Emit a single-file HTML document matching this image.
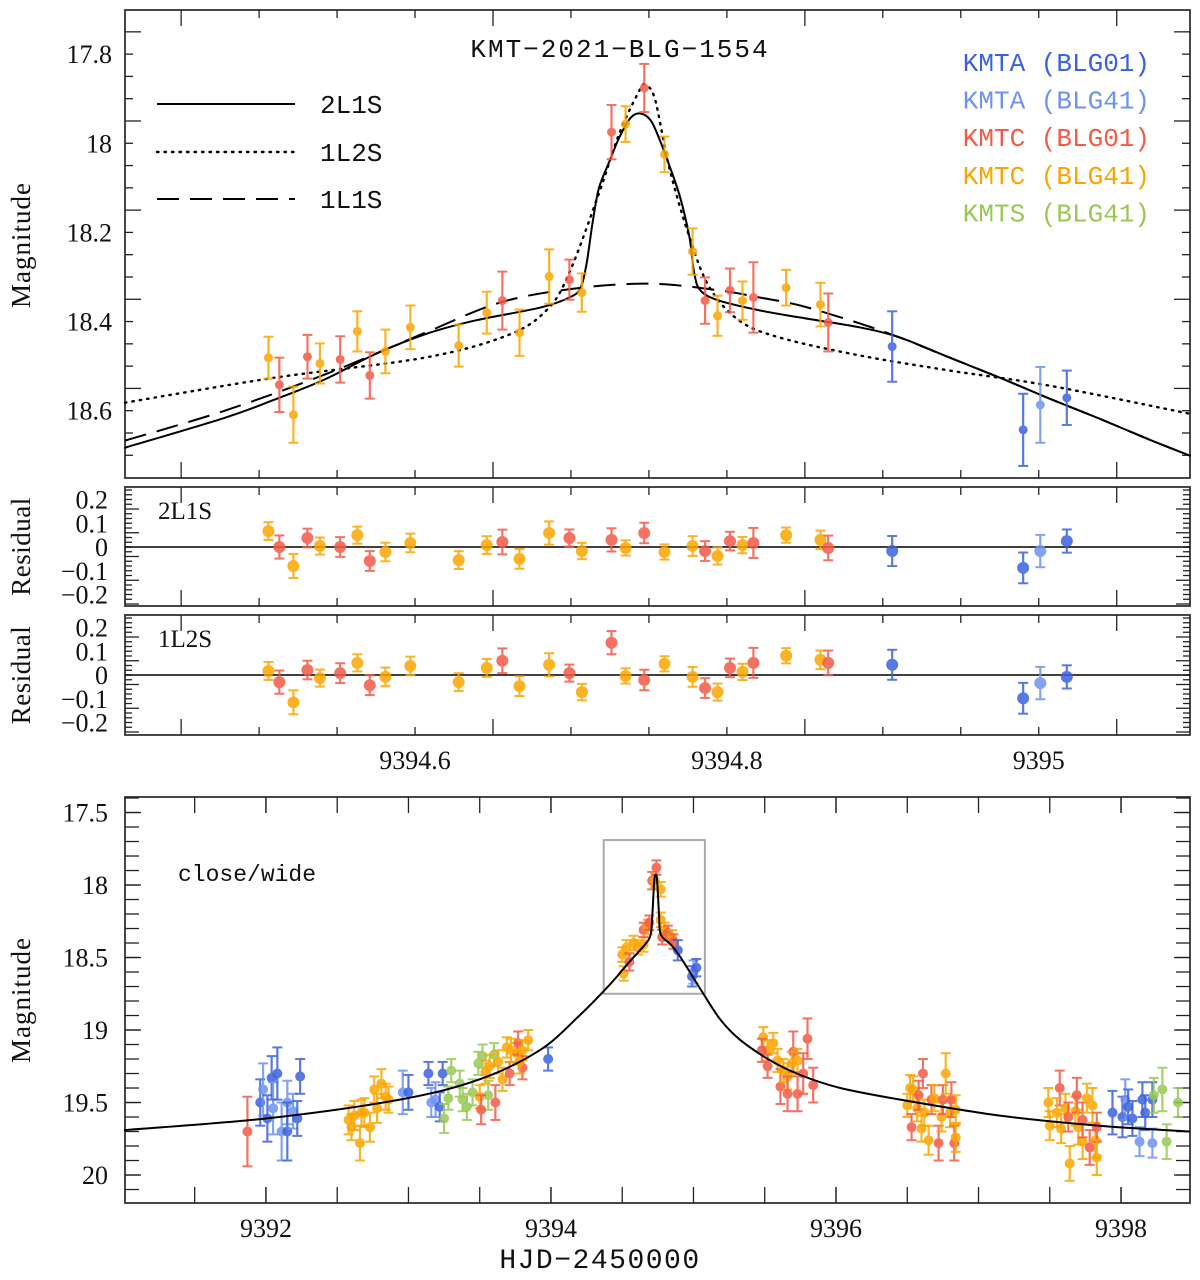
<!DOCTYPE html>
<html><head><meta charset="utf-8"><style>
html,body{margin:0;padding:0;background:#fff;}
svg{display:block;}
text{font-family:"Liberation Serif",serif;fill:#111;}
.mono{font-family:"Liberation Mono",monospace;}
</style></head><body>
<svg id="chart" width="1200" height="1280" viewBox="0 0 1200 1280" xmlns="http://www.w3.org/2000/svg"></svg>
<script>
// ---------- data: zoom panel (top) ----------
const topT = [9394.506,9394.513,9394.522,9394.531,9394.539,9394.552,9394.563,9394.571,9394.581,9394.597,9394.628,9394.646,9394.656,9394.667,9394.686,9394.699,9394.707,9394.726,9394.735,9394.747,9394.760,9394.778,9394.786,9394.794,9394.802,9394.810,9394.817,9394.838,9394.860,9394.865,9394.906,9394.990,9395.001,9395.018];
const topMag = [18.481,18.542,18.609,18.479,18.494,18.485,18.422,18.521,18.467,18.413,18.454,18.380,18.353,18.425,18.299,18.306,18.335,17.975,17.957,17.876,18.025,18.243,18.353,18.387,18.330,18.353,18.346,18.324,18.362,18.402,18.456,18.643,18.587,18.571];
const topErr = [0.047,0.061,0.063,0.049,0.045,0.052,0.045,0.052,0.049,0.049,0.047,0.047,0.065,0.052,0.061,0.045,0.043,0.061,0.040,0.054,0.040,0.052,0.052,0.045,0.049,0.043,0.079,0.040,0.049,0.065,0.079,0.081,0.085,0.061];
const topSet = [3,2,3,2,3,2,3,2,3,3,3,3,2,3,3,2,3,2,3,2,3,3,2,3,2,3,2,3,3,2,0,0,1,0];
const res2L1S = [0.067,0,-0.080,0.038,0.004,0,0.050,-0.059,-0.021,0.017,-0.055,0.008,0.021,-0.050,0.059,0.038,-0.017,0.030,-0.004,0.059,-0.021,0.004,-0.017,-0.038,0.025,0.008,0.017,0.050,0.030,-0.004,-0.017,-0.088,-0.017,0.025];
const res1L2S = [0.017,-0.030,-0.115,0.021,-0.013,0.008,0.051,-0.043,-0.008,0.038,-0.030,0.030,0.060,-0.047,0.043,0.008,-0.072,0.136,-0.004,-0.021,0.047,-0.008,-0.055,-0.072,0.030,0.013,0.051,0.081,0.064,0.051,0.043,-0.098,-0.034,-0.008];
// model curves (zoom panel)
const m2L1S_t = [9394.414,9394.478,9394.510,9394.542,9394.574,9394.606,9394.638,9394.680,9394.699,9394.706,9394.710,9394.714,9394.718,9394.725,9394.731,9394.738,9394.744,9394.751,9394.757,9394.763,9394.770,9394.776,9394.779,9394.783,9394.795,9394.821,9394.847,9394.885,9394.911,9394.943,9394.975,9395.007,9395.039,9395.071,9395.097];
const m2L1S_m = [18.683,18.616,18.575,18.530,18.474,18.429,18.398,18.369,18.346,18.325,18.270,18.175,18.100,18.038,17.987,17.944,17.933,17.948,17.993,18.049,18.121,18.211,18.290,18.330,18.353,18.375,18.391,18.413,18.436,18.481,18.526,18.573,18.618,18.665,18.701];
const m1L2S_t = [9394.414,9394.510,9394.606,9394.660,9394.685,9394.699,9394.718,9394.731,9394.744,9394.748,9394.754,9394.763,9394.776,9394.789,9394.808,9394.834,9394.885,9394.943,9395.007,9395.097];
const m1L2S_m = [18.582,18.526,18.481,18.430,18.372,18.290,18.112,17.978,17.881,17.870,17.903,18.054,18.211,18.324,18.398,18.436,18.476,18.510,18.544,18.607];
const m1L1S_t = [9394.414,9394.478,9394.542,9394.606,9394.654,9394.702,9394.751,9394.795,9394.821,9394.847,9394.885,9394.911,9394.943,9394.975,9395.007,9395.039,9395.071,9395.097];
const m1L1S_m = [18.667,18.600,18.519,18.426,18.358,18.326,18.315,18.330,18.346,18.364,18.404,18.436,18.481,18.526,18.573,18.618,18.665,18.701];
// ---------- data: full light curve (bottom) ----------
const botT = [9391.87,
 9391.96,9391.98,9392.01,9392.04,9392.05,9392.08,9392.11,9392.15,9392.15,9392.19,9392.22,9392.24,
 9392.58,9392.60,9392.62,9392.66,9392.67,9392.69,9392.73,9392.76,9392.78,9392.81,9392.84,9392.86,
 9392.96,9393.00,9393.14,9393.16,9393.19,9393.22,9393.24,
 9393.25,9393.28,9393.30,9393.36,9393.38,9393.41,9393.45,9393.49,9393.52,9393.56,9393.60,
 9393.50,9393.51,9393.54,9393.57,9393.61,9393.63,9393.66,9393.71,9393.69,9393.72,9393.76,9393.77,9393.80,9393.80,9393.84,9393.78,
 9393.98,
 9394.50,9394.51,9394.53,9394.55,9394.58,9394.61,9394.65,9394.65,9394.68,9394.69,9394.71,9394.73,9394.74,9394.77,9394.77,9394.78,9394.80,9394.82,9394.85,9394.86,9394.89,9394.99,9395.00,9395.02,
 9395.49,9395.52,9395.48,9395.52,9395.56,9395.59,9395.61,9395.63,9395.66,9395.66,9395.70,9395.73,9395.73,9395.77,9395.80,9395.84,9395.69,
 9396.50,9396.52,9396.53,9396.54,9396.57,9396.58,9396.61,9396.60,9396.62,9396.65,9396.67,9396.69,9396.72,9396.74,9396.75,9396.77,9396.80,9396.81,9396.83,9396.84,9396.84,
 9397.49,9397.50,9397.57,9397.55,9397.58,9397.61,9397.63,9397.64,9397.68,9397.69,9397.70,9397.73,9397.73,9397.76,9397.78,9397.80,9397.82,9397.83,9397.83,
 9397.94,9398.01,9398.03,9398.05,9398.08,9398.13,9398.15,9398.17,9398.22,9398.22,
 9398.23,9398.29,9398.32,9398.40];
const botMag = [19.70,
 19.50,19.41,19.61,19.33,19.54,19.30,19.70,19.50,19.70,19.56,19.61,19.32,
 19.62,19.67,19.59,19.78,19.57,19.57,19.67,19.41,19.54,19.37,19.46,19.48,
 19.43,19.43,19.30,19.50,19.48,19.53,19.30,
 19.61,19.47,19.28,19.37,19.48,19.53,19.43,19.23,19.18,19.45,19.17,
 19.46,19.55,19.29,19.25,19.50,19.22,19.34,19.30,19.12,19.14,19.16,19.09,19.14,19.26,19.07,19.22,
 19.20,
 18.48,18.61,18.43,18.53,18.40,18.43,18.41,18.31,18.29,18.26,17.97,17.97,17.88,18.03,18.24,18.36,18.31,18.33,18.36,18.39,18.45,18.63,18.60,18.57,
 19.05,19.14,19.14,19.25,19.09,19.21,19.39,19.28,19.32,19.44,19.15,19.44,19.21,19.30,19.06,19.38,19.23,
 19.52,19.40,19.67,19.41,19.54,19.45,19.30,19.68,19.57,19.76,19.48,19.47,19.78,19.60,19.48,19.30,19.57,19.48,19.78,19.55,19.74,
 19.50,19.66,19.40,19.57,19.68,19.54,19.60,19.92,19.56,19.45,19.67,19.77,19.62,19.47,19.81,19.52,19.76,19.67,19.88,
 19.57,19.60,19.48,19.53,19.61,19.77,19.48,19.57,19.48,19.78,
 19.45,19.41,19.77,19.50];
const botErr = [0.24,
 0.16,0.18,0.16,0.15,0.18,0.18,0.20,0.15,0.20,0.12,0.12,0.12,
 0.10,0.09,0.10,0.12,0.09,0.10,0.10,0.09,0.10,0.10,0.09,0.09,
 0.15,0.12,0.08,0.10,0.12,0.10,0.08,
 0.10,0.08,0.08,0.09,0.08,0.09,0.09,0.08,0.08,0.10,0.08,
 0.08,0.10,0.08,0.08,0.12,0.08,0.08,0.08,0.07,0.08,0.07,0.08,0.07,0.08,0.07,0.08,
 0.08,
 0.05,0.05,0.05,0.06,0.05,0.05,0.05,0.05,0.05,0.05,0.06,0.05,0.05,0.05,0.05,0.05,0.05,0.05,0.05,0.05,0.07,0.07,0.08,0.06,
 0.07,0.07,0.08,0.08,0.07,0.08,0.12,0.08,0.09,0.12,0.14,0.12,0.08,0.14,0.14,0.12,0.08,
 0.08,0.09,0.09,0.09,0.09,0.10,0.10,0.09,0.09,0.10,0.10,0.09,0.12,0.10,0.10,0.14,0.10,0.12,0.12,0.10,0.10,
 0.10,0.10,0.12,0.10,0.10,0.10,0.10,0.12,0.10,0.12,0.12,0.12,0.12,0.10,0.12,0.12,0.12,0.10,0.12,
 0.15,0.14,0.14,0.12,0.12,0.10,0.12,0.12,0.12,0.10,
 0.12,0.15,0.12,0.10];
const botSet = [2,
 0,1,0,0,1,0,1,1,0,1,0,0,
 3,3,3,3,3,3,3,3,3,3,3,3,
 1,0,0,1,1,0,0,
 4,4,4,4,4,4,4,4,4,4,4,
 3,2,3,3,2,3,3,2,3,3,3,2,3,2,3,3,
 0,
 3,3,3,2,3,3,3,2,3,2,2,3,2,3,3,2,3,2,3,2,0,0,1,0,
 3,3,2,2,3,3,2,3,3,2,2,2,3,2,2,2,3,
 3,3,2,3,3,2,2,3,3,3,2,3,2,3,2,3,3,2,2,3,3,
 3,3,2,3,3,3,2,3,3,2,3,3,2,3,2,3,3,2,3,
 0,0,1,0,0,1,0,0,0,1,
 4,4,4,4];
const modelBotT = [9391.01,9392.00,9392.94,9393.50,9393.92,9394.20,9394.41,9394.55,9394.66,9394.70,9394.712,9394.725,9394.735,9394.745,9394.758,9394.77,9394.84,9394.91,9395.05,9395.19,9395.33,9395.54,9395.75,9396.03,9396.45,9397.15,9397.85,9398.48];
const modelBotM = [19.69,19.61,19.48,19.34,19.14,18.90,18.69,18.53,18.41,18.34,18.20,17.97,17.93,17.97,18.20,18.34,18.41,18.50,18.72,18.93,19.07,19.21,19.31,19.40,19.48,19.59,19.66,19.70];
// labels
const setNames = ["KMTA (BLG01)","KMTA (BLG41)","KMTC (BLG01)","KMTC (BLG41)","KMTS (BLG41)"];
const setColors = ["#3b62dc","#6e92f2","#f45a48","#fba500","#98c954"];
const topXTicks = [9394.6,9394.8,9395.0];
const topXLabels = ["9394.6","9394.8","9395"];
const topYTicks = [17.8,18.0,18.2,18.4,18.6];
const topYLabels = ["17.8","18","18.2","18.4","18.6"];
const resYTicks = [0.2,0.1,0,-0.1,-0.2];
const resYLabels = ["0.2","0.1","0","\u22120.1","\u22120.2"];
const botXTicks = [9392,9394,9396,9398];
const botXLabels = ["9392","9394","9396","9398"];
const botYTicks = [17.5,18,18.5,19,19.5,20];
const botYLabels = ["17.5","18","18.5","19","19.5","20"];

// ---------- drawing ----------
const NS = "http://www.w3.org/2000/svg";
const svg = document.getElementById("chart");
const P = {
  top:{x0:125,x1:1190,y0:10,y1:478,t0:9394.414,t1:9395.097,v0:17.701,v1:18.751},
  r1:{x0:125,x1:1190,y0:487,y1:606,t0:9394.414,t1:9395.097,v0:0.253,v1:-0.248},
  r2:{x0:125,x1:1190,y0:615,y1:735,t0:9394.414,t1:9395.097,v0:0.253,v1:-0.253},
  bot:{x0:125,x1:1190,y0:797,y1:1203,t0:9391.011,t1:9398.484,v0:17.393,v1:20.193}
};
P.r2.v0 = (675-615)/237.5; P.r2.v1 = -(735-675)/237.5;
P.r1.v0 = (547-487)/237.5; P.r1.v1 = -(606-547)/237.5;
function sx(p,t){return p.x0+(t-p.t0)/(p.t1-p.t0)*(p.x1-p.x0);}
function sy(p,v){return p.y0+(v-p.v0)/(p.v1-p.v0)*(p.y1-p.y0);}
function mk(tag,parent){const e=document.createElementNS(NS,tag);(parent||svg).appendChild(e);return e;}
function attrs(e,o){for(const k in o)e.setAttribute(k,o[k]);return e;}
function line(g,x1,y1,x2,y2,st,w){const l=mk("line",g);attrs(l,{x1:x1,y1:y1,x2:x2,y2:y2,stroke:st||"#222","stroke-width":w||1.3});return l;}

function frame(p,name){
  const g=mk("g");
  
  
  const r=mk("rect",g);
  attrs(r,{x:p.x0,y:p.y0,width:p.x1-p.x0,height:p.y1-p.y0,fill:"none",stroke:"#333","stroke-width":1.8});
  
  
  return g;
}
function xTicks(p,g,start,n,step,majorEvery,len){
  for(let i=0;i<n;i++){const t=start+i*step;const x=sx(p,t);const L=(i%majorEvery===0)?len*2:len;
    line(g,x,p.y1,x,p.y1-L);line(g,x,p.y0,x,p.y0+L);}
}
function yTicks(p,g,start,n,step,majorEvery,len){
  for(let i=0;i<n;i++){const v=start+i*step;const y=sy(p,v);const L=(i%majorEvery===0)?len*2:len;
    line(g,p.x0,y,p.x0+L,y);line(g,p.x1,y,p.x1-L,y);}
}
function txt(g,x,y,s,size,anchor,cls,fill){const t=mk("text",g);attrs(t,{x:x,y:y,"font-size":size,"text-anchor":anchor||"middle"});if(cls)t.setAttribute("class",cls);if(fill)t.style.fill=fill;t.textContent=s;return t;}
function ylabels(p,g,vals,labs,x,name){
  for(let i=0;i<vals.length;i++){const t=txt(g,x,sy(p,vals[i])+9,labs[i],26,"end");
    
    }
}
function smoothPath(xs,ys){
  let d="M"+xs[0].toFixed(1)+","+ys[0].toFixed(1);
  for(let i=0;i<xs.length-1;i++){
    const x0=xs[Math.max(0,i-1)],y0=ys[Math.max(0,i-1)],x1=xs[i],y1=ys[i],x2=xs[i+1],y2=ys[i+1],x3=xs[Math.min(xs.length-1,i+2)],y3=ys[Math.min(xs.length-1,i+2)];
    const c1x=x1+(x2-x0)/6,c1y=y1+(y2-y0)/6,c2x=x2-(x3-x1)/6,c2y=y2-(y3-y1)/6;
    d+=" C"+c1x.toFixed(1)+","+c1y.toFixed(1)+" "+c2x.toFixed(1)+","+c2y.toFixed(1)+" "+x2.toFixed(1)+","+y2.toFixed(1);
  }
  return d;
}
function curve(p,g,ts,ms,dash,name){
  const pa=mk("path",g);
  const xs=ts.map(t=>sx(p,t)),ys=ms.map(m=>sy(p,m));
  attrs(pa,{d:smoothPath(xs,ys),fill:"none",stroke:"#000","stroke-width":dash==="dot"?2.4:2,"stroke-linejoin":"round","stroke-linecap":"round"});
  if(dash==="dot")pa.setAttribute("stroke-dasharray","1.5,6");
  if(dash==="dash"){pa.setAttribute("stroke-dasharray","22,11");pa.setAttribute("stroke-linecap","butt");}
  
  
}
function points(p,g,ts,vs,es,sets,r,cap,name){
  for(let i=0;i<ts.length;i++){
    const x=sx(p,ts[i]),y=sy(p,vs[i]),ya=sy(p,vs[i]-es[i]),yb=sy(p,vs[i]+es[i]);
    const c=setColors[sets[i]];
    const eg=mk("g",g);
    
    
    attrs(eg,{opacity:0.85});
    line(eg,x,ya,x,yb,c,2.2);line(eg,x-cap,ya,x+cap,ya,c,2);line(eg,x-cap,yb,x+cap,yb,c,2);
    const d=mk("circle",eg);attrs(d,{cx:x,cy:y,r:r,fill:c});
  }
}

// ---- top panel ----
let g=frame(P.top,"zoom-panel");
xTicks(P.top,g,9394.45,13,0.05,4,8);
yTicks(P.top,g,17.75,20,0.05,4,8);
ylabels(P.top,g,topYTicks,topYLabels,112,"y-tick-label");
curve(P.top,g,m1L1S_t,m1L1S_m,"dash","model-1l1s");
curve(P.top,g,m1L2S_t,m1L2S_m,"dot","model-1l2s");
curve(P.top,g,m2L1S_t,m2L1S_m,"solid","model-2l1s");
points(P.top,g,topT,topMag,topErr,topSet,4.5,5,"data-point");
let tt=txt(g,620,57,"KMT\u22122021\u2212BLG\u22121554",26,"middle","mono");
tt.setAttribute("letter-spacing","2");


// line-style legend
const legNames=["2L1S","1L2S","1L1S"], legDash=["solid","dot","dash"], legY=[104,152,199];
for(let i=0;i<3;i++){
  const lg=mk("g",g);
  
  
  const l=line(lg,157,legY[i],295,legY[i],"#000",2);
  if(legDash[i]==="dot"){l.setAttribute("stroke-dasharray","1.5,6");l.setAttribute("stroke-linecap","round");l.setAttribute("stroke-width",2.4);}
  if(legDash[i]==="dash")l.setAttribute("stroke-dasharray","22,11");
  txt(lg,320,legY[i]+9,legNames[i],26,"start","mono");
}
for(let i=0;i<5;i++){
  const t=txt(g,1150,71+i*37.6,setNames[i],26,"end","mono",setColors[i]);
  
  
}
let yt=txt(g,0,0,"Magnitude",27,"middle");
attrs(yt,{transform:"translate(30,245) rotate(-90)","letter-spacing":"1"});



// ---- residual panels ----
function resPanel(p,res,label,name){
  const g=frame(p,name);
  xTicks(p,g,9394.45,13,0.05,4,8);
  yTicks(p,g,-0.24,25,0.02,5,7);
  ylabels(p,g,resYTicks,resYLabels,108,"y-tick-label");
  line(g,p.x0,sy(p,0),p.x1,sy(p,0),"#000",1.6);
  points(p,g,topT,res,topErr.map(e=>e*0.8),topSet,6,5,"residual-point");
  const t=txt(g,158,p.y0+32,label,25,"start");
  
  
  const yt=txt(g,0,0,"Residual",27,"middle");
  attrs(yt,{transform:"translate(30,"+((p.y0+p.y1)/2)+") rotate(-90)","letter-spacing":"0.5"});
  
  
}
resPanel(P.r1,res2L1S,"2L1S","residual-2l1s-panel");
resPanel(P.r2,res1L2S,"1L2S","residual-1l2s-panel");
for(let i=0;i<topXTicks.length;i++){
  const t=txt(svg,sx(P.r2,topXTicks[i]),769,topXLabels[i],26,"middle");
  
  
}

// ---- bottom panel ----
g=frame(P.bot,"full-lightcurve-panel");
xTicks(P.bot,g,9391.5,14,0.5,1,8);
for(let i=0;i<botXTicks.length;i++){const x=sx(P.bot,botXTicks[i]);line(g,x,P.bot.y1,x,P.bot.y1-16);line(g,x,P.bot.y0,x,P.bot.y0+16);}
yTicks(P.bot,g,17.4,28,0.1,1,7);
for(let i=0;i<botYTicks.length;i++){const y=sy(P.bot,botYTicks[i]);line(g,P.bot.x0,y,P.bot.x0+16,y);line(g,P.bot.x1,y,P.bot.x1-16,y);}
ylabels(P.bot,g,botYTicks,botYLabels,108,"y-tick-label");
const zr=mk("rect",g);
attrs(zr,{x:sx(P.bot,9394.37),y:sy(P.bot,17.69),width:sx(P.bot,9395.08)-sx(P.bot,9394.37),height:sy(P.bot,18.75)-sy(P.bot,17.69),fill:"none",stroke:"#aaa","stroke-width":2});


points(P.bot,g,botT,botMag,botErr,botSet,5,5,"data-point");
curve(P.bot,g,modelBotT,modelBotM,"solid","model-close-wide");
let cw=txt(g,178,881,"close/wide",23,"start","mono");


for(let i=0;i<botXTicks.length;i++){
  const t=txt(svg,sx(P.bot,botXTicks[i]),1237,botXLabels[i],26,"middle");
  
  
}
let xt=txt(svg,600,1268,"HJD\u22122450000",28,"middle","mono");
xt.setAttribute("letter-spacing","1.5");


let yb=txt(svg,0,0,"Magnitude",27,"middle");
attrs(yb,{transform:"translate(30,1000) rotate(-90)","letter-spacing":"1"});


</script>
</body></html>
